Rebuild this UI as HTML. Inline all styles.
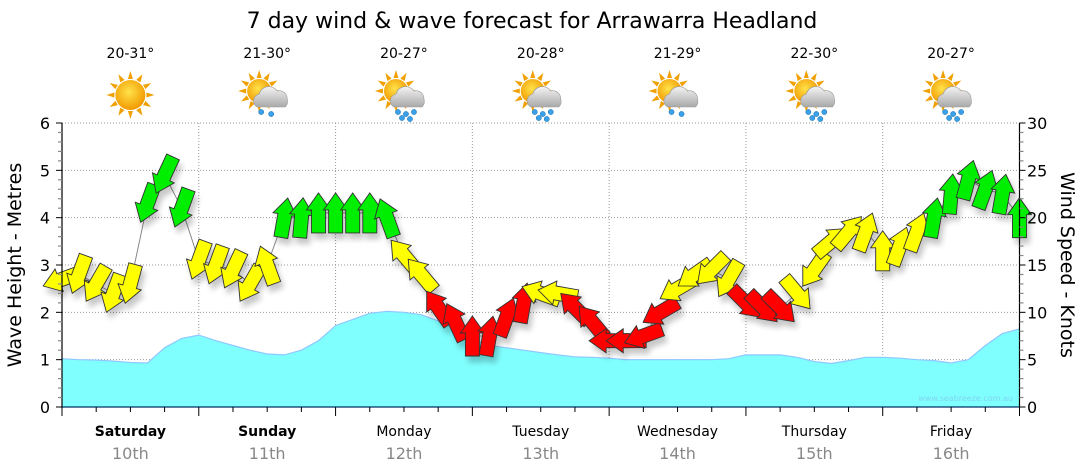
<!DOCTYPE html>
<html><head><meta charset="utf-8"><style>
html,body{margin:0;padding:0;background:#fff;}
svg{display:block;font-family:"DejaVu Sans","Liberation Sans",sans-serif;}
</style></head><body>
<svg id="chart" width="1080" height="475" viewBox="0 0 1080 475" xmlns="http://www.w3.org/2000/svg">
<defs>
<filter id="sh" x="-50%" y="-50%" width="200%" height="200%"><feGaussianBlur in="SourceAlpha" stdDeviation="3"/><feOffset dx="3" dy="6"/><feComponentTransfer><feFuncA type="linear" slope="0.22"/></feComponentTransfer><feMerge><feMergeNode/><feMergeNode in="SourceGraphic"/></feMerge></filter>
<radialGradient id="sun" cx="45%" cy="40%" r="60%"><stop offset="0" stop-color="#ffe24a"/><stop offset="1" stop-color="#f29a00"/></radialGradient>
<linearGradient id="cloud" x1="0" y1="0" x2="0" y2="1"><stop offset="0" stop-color="#f4f4f4"/><stop offset="1" stop-color="#a9a9a9"/></linearGradient>
</defs>
<text x="532" y="28" font-size="22" text-anchor="middle" fill="#000">7 day wind &amp; wave forecast for Arrawarra Headland</text>
<g id="grid"></g>
<g id="waves"></g>
<g id="windline"></g>
<g id="arrows" filter="url(#sh)"></g>
<g id="axes"></g>
<g id="icons"></g>
<text transform="translate(21,265) rotate(-90)" font-size="19" text-anchor="middle">Wave Height - Metres</text>
<text transform="translate(1061,265) rotate(90)" font-size="19" text-anchor="middle">Wind Speed - Knots</text>
<text x="1013" y="401" font-size="8" text-anchor="end" fill="#7fd4ee">www.seabreeze.com.au</text>
</svg>
<script>
const days = ["Saturday","Sunday","Monday","Tuesday","Wednesday","Thursday","Friday"];
const dates = ["10th","11th","12th","13th","14th","15th","16th"];
const boldDays = [true,true,false,false,false,false,false];
const temps = ["20-31°","21-30°","20-27°","20-28°","21-29°","22-30°","20-27°"];
const weather = ["sun","cloud-rain-light","rain","rain","cloud-rain-light","rain","rain"];
const waveTicks = [0,1,2,3,4,5,6];
const windTicks = [0,5,10,15,20,25,30];
// wave height (m), 3-hourly from Saturday 00:00
const waveHeight = [1.02,1.0,0.99,0.97,0.94,0.93,1.25,1.45,1.52,1.4,1.3,1.2,1.12,1.1,1.2,1.4,1.72,1.85,1.98,2.02,2.0,1.95,1.82,1.65,1.45,1.3,1.25,1.2,1.15,1.1,1.06,1.05,1.03,1.0,1.0,1.0,1.0,1.0,1.0,1.02,1.1,1.1,1.1,1.05,0.96,0.92,0.98,1.05,1.05,1.03,1.0,0.98,0.93,1.0,1.3,1.55,1.65];
// wind speed (knots), 3-hourly
const windSpeed = [13.5,14,13,12,13,21.5,24.5,21,15.5,15,14.5,13,15,20,20,20.5,20.5,20.5,20.5,20,16,14,10.5,9,7.5,7.5,9.5,11,12,12,10.5,9,7,7,7.5,10,12.5,14,14.5,13.5,11,10.5,10.5,12,14.5,17.5,18.5,18.5,16.5,17,18.5,20,22.5,24,23,22.5,20];
// direction arrow points to (degrees, 0 = up, clockwise)
const windDir = [250,200,210,200,195,200,205,200,200,200,205,210,340,10,5,0,0,0,0,340,320,320,325,335,0,10,20,10,290,280,315,320,270,270,250,240,240,235,225,210,135,135,135,140,215,50,40,20,0,20,20,10,5,15,20,10,0];

const svg = document.getElementById('chart');
const NS = 'http://www.w3.org/2000/svg';
const X0 = 62, X1 = 1019.5, Y0 = 407, Y6 = 123;
const dayW = (X1 - X0) / 7;
const xH = h => Math.min(X1, X0 + h * dayW / 24);
const yM = m => Y0 - m * (Y0 - Y6) / 6;
const yK = k => Y0 - k * (Y0 - Y6) / 30;
function mk(tag, attrs, parent){const e=document.createElementNS(NS,tag);for(const k in attrs)e.setAttribute(k,attrs[k]);parent.appendChild(e);return e;}

const grid = document.getElementById('grid');
for (let i=1;i<=6;i++){
  const l = mk('line',{x1:X0,x2:X1,y1:yM(i),y2:yM(i),stroke:'#999','stroke-dasharray':'1,2','stroke-width':1},grid);
  
  
}
for (let d=1;d<7;d++){
  const l = mk('line',{x1:X0+d*dayW,x2:X0+d*dayW,y1:Y6,y2:Y0,stroke:'#999','stroke-dasharray':'1,2','stroke-width':1},grid);
  
  
}

const wg = document.getElementById('waves');
let d = 'M'+xH(0)+','+Y0;
waveHeight.forEach((v,i)=>{ d += ' L'+xH(i*3).toFixed(1)+','+yM(v).toFixed(1); });
d += ' L'+xH((waveHeight.length-1)*3)+','+Y0+' Z';
const area = mk('path',{d:d,fill:'#80ffff',stroke:'none'},wg);


let d2 = '';
waveHeight.forEach((v,i)=>{ d2 += (i?' L':'M')+xH(i*3).toFixed(1)+','+yM(v).toFixed(1); });
const wl = mk('path',{d:d2,fill:'none',stroke:'#8ec8ff','stroke-width':1.2},wg);



let d3='';
windSpeed.forEach((v,i)=>{ d3 += (i?' L':'M')+xH(i*3).toFixed(1)+','+yK(v).toFixed(1); });
const ln = mk('path',{d:d3,fill:'none',stroke:'#888','stroke-width':1},document.getElementById('windline'));



const ag = document.getElementById('arrows');
windSpeed.forEach((k,i)=>{
  const col = k < 12 ? '#ff0000' : (k < 19.5 ? '#ffff00' : '#00ee00');
  const a = mk('polygon',{points:'-7,20 7,20 7,-3 12,-3 0,-20 -12,-3 -7,-3',fill:col,stroke:'#333','stroke-width':0.9,
    transform:'translate('+xH(i*3).toFixed(1)+','+yK(k).toFixed(1)+') rotate('+windDir[i]+')'},ag);
  
  
});

const ax = document.getElementById('axes');
const la = mk('line',{x1:X0,x2:X0,y1:Y6,y2:Y0+1,stroke:'#000','stroke-width':1.2},ax);


const ra = mk('line',{x1:X1,x2:X1,y1:Y6,y2:Y0,stroke:'#000','stroke-width':1.2},ax);


const ba = mk('line',{x1:X0,x2:X1,y1:Y0,y2:Y0,stroke:'#036','stroke-width':1.2},ax);


for (let m=0;m<=6.01;m+=0.2){
  const major = Math.abs(m-Math.round(m))<0.01;
  mk('line',{x1:X0-(major?6:4),x2:X0,y1:yM(m),y2:yM(m),stroke:major?'#000':'#888','stroke-width':major?1:1.2},ax);
}
for (let k=0;k<=30;k+=1){
  const major = k%5===0;
  mk('line',{x1:X1,x2:X1+(major?6:4),y1:yK(k),y2:yK(k),stroke:major?'#000':'#888','stroke-width':major?1:1.2},ax);
}
waveTicks.forEach(v=>{
  const t = mk('text',{x:50,y:yM(v)+6,'font-size':16,'text-anchor':'end'},ax);
  t.textContent = v;
  
  
});
windTicks.forEach(v=>{
  const t = mk('text',{x:1027,y:yK(v)+6,'font-size':16,'text-anchor':'start'},ax);
  t.textContent = v;
  
  
});
for (let h=0;h<=168;h+=6){
  const major = h%24===0;
  mk('line',{x1:xH(h),x2:xH(h),y1:Y0,y2:Y0+(major?9:5),stroke:'#000','stroke-width':1},ax);
}
days.forEach((n,i)=>{
  const cx = X0 + (i+0.5)*dayW;
  const t = mk('text',{x:cx,y:436,'font-size':14,'text-anchor':'middle','font-weight':boldDays[i]?'bold':'normal'},ax);
  t.textContent = n;
  
  
  const t2 = mk('text',{x:cx,y:459,'font-size':16,'text-anchor':'middle',fill:'#888'},ax);
  t2.textContent = dates[i];
  
  
  const t3 = mk('text',{x:cx,y:58,'font-size':14,'text-anchor':'middle'},ax);
  t3.textContent = temps[i];
  
  
});

const ig = document.getElementById('icons');
weather.forEach((w,i)=>{
  const cx = X0 + (i+0.5)*dayW, cy = 95;
  const g = mk('g',{transform:'translate('+cx+','+cy+')'},ig);
  
  
  const sx = w==='sun'?0:-8, sy = w==='sun'?0:-4, r = w==='sun'?15:12;
  for (let a=0;a<360;a+=30){
    mk('polygon',{points:'-2.5,0 2.5,0 0,-8',fill:'#f0a000',transform:'translate('+sx+','+sy+') rotate('+a+') translate(0,'+(-r-1)+')'},g);
  }
  mk('circle',{cx:sx,cy:sy,r:r,fill:'url(#sun)'},g);
  if (w!=='sun'){
    mk('path',{d:'M-10,12 a7,7 0 0 1 2,-13 a10,10 0 0 1 18,-3 a8,8 0 0 1 10,8 a8,8 0 0 1 -2,8 Z',fill:'url(#cloud)',stroke:'#999','stroke-width':0.6},g);
    const drops = w==='rain' ? [[-6,17],[2,19],[10,17],[-2,23],[6,24]] : [[-6,17],[4,19]];
    drops.forEach(p=>{ mk('circle',{cx:p[0],cy:p[1],r:2.6,fill:'#3aa0e8',stroke:'#1670b0','stroke-width':0.5},g); });
  }
});
</script>
</body></html>
